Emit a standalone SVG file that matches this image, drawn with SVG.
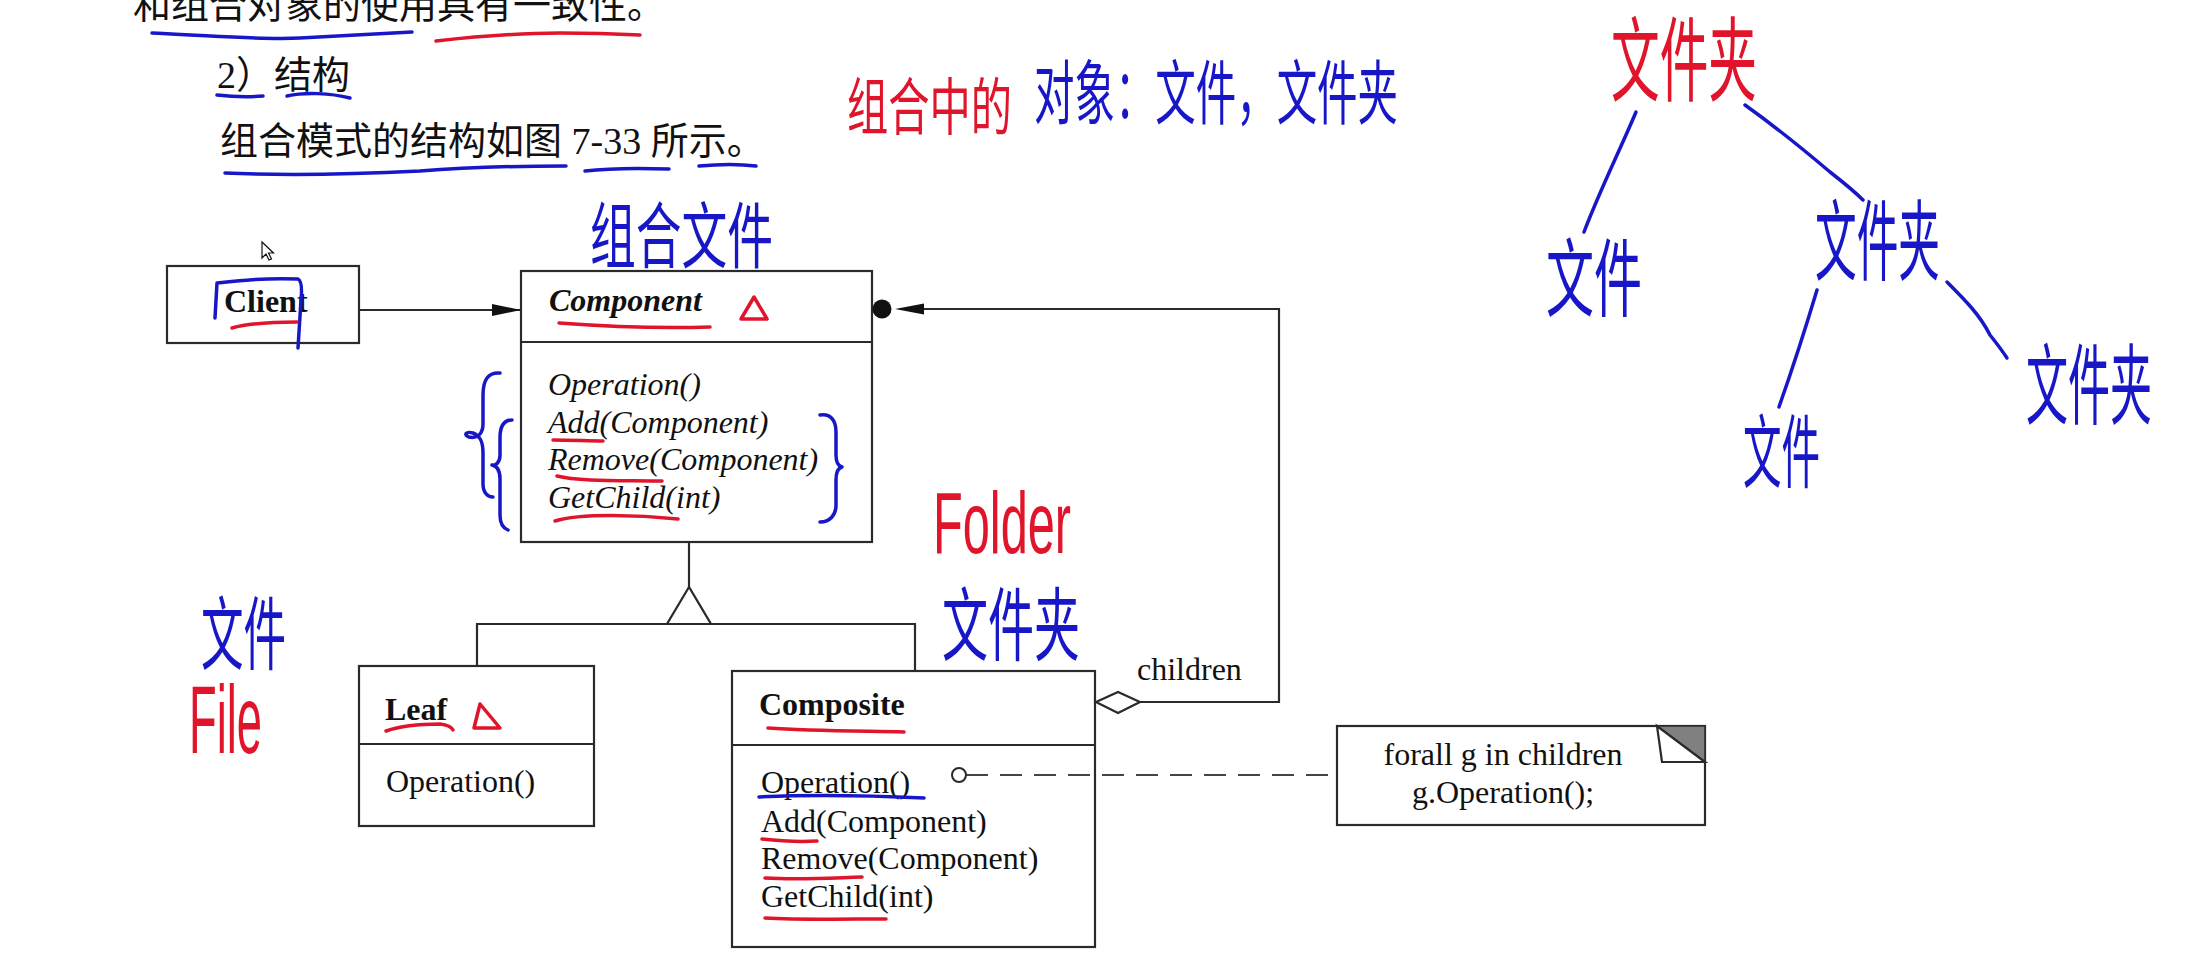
<svg xmlns="http://www.w3.org/2000/svg" width="2203" height="975" viewBox="0 0 2203 975">
<style>
.bg{fill:#ffffff}
.box{fill:#ffffff;stroke:#2a2a2a;stroke-width:2.2}
.ln{fill:none;stroke:#2a2a2a;stroke-width:2.2}
.dash{fill:none;stroke:#444;stroke-width:2.2;stroke-dasharray:22 12}
.t{font-family:"Liberation Serif","Times New Roman",serif;font-size:32px;fill:#111}
.tb{font-weight:bold}
.ti{font-style:italic}
.cn{font-family:"Liberation Serif","Noto Sans CJK SC",serif;font-size:38px;fill:#111}
.hb{font-family:"Noto Sans CJK SC","Noto Sans",sans-serif;fill:#1717c8}
.hr{font-family:"Noto Sans CJK SC","Noto Sans",sans-serif;fill:#e0142a}
.hlb{font-family:"Liberation Sans","Noto Sans",sans-serif;fill:#e0142a}
.pb{fill:none;stroke:#1717c8;stroke-width:3.5;stroke-linecap:round;stroke-linejoin:round}
.pr{fill:none;stroke:#e0142a;stroke-width:3.5;stroke-linecap:round;stroke-linejoin:round}
</style>
<defs>
<marker id="arrFill" markerWidth="30" markerHeight="12" refX="29" refY="6" orient="auto" markerUnits="userSpaceOnUse">
<path d="M0,0 L29,6 L0,12 Z" fill="#111"/>
</marker>
</defs>
<rect class="bg" x="0" y="0" width="2203" height="975"/>

<g id="page-text">
<text class="cn" x="133" y="18">和组合对象的使用具有一致性。</text>
<text class="cn" x="217" y="88">2）结构</text>
<text class="cn" x="220" y="154">组合模式的结构如图 7-33 所示。</text>
</g>

<g id="node-client">
<rect class="box" x="167" y="266" width="192" height="77"/>
<text class="t tb" x="224" y="312">Client</text>
</g>

<g id="node-component">
<rect class="box" x="521" y="271" width="351" height="271"/>
<line class="ln" x1="521" y1="342" x2="872" y2="342"/>
<text class="t tb ti" x="549" y="311">Component</text>
<text class="t ti" x="548" y="395">Operation()</text>
<text class="t ti" x="548" y="433">Add(Component)</text>
<text class="t ti" x="548" y="470">Remove(Component)</text>
<text class="t ti" x="548" y="508">GetChild(int)</text>
</g>

<g id="node-leaf">
<rect class="box" x="359" y="666" width="235" height="160"/>
<line class="ln" x1="359" y1="744" x2="594" y2="744"/>
<text class="t tb" x="385" y="720">Leaf</text>
<text class="t" x="386" y="792">Operation()</text>
</g>

<g id="node-composite">
<rect class="box" x="732" y="671" width="363" height="276"/>
<line class="ln" x1="732" y1="745" x2="1095" y2="745"/>
<text class="t tb" x="759" y="715">Composite</text>
<text class="t" x="761" y="793">Operation()</text>
<text class="t" x="761" y="832">Add(Component)</text>
<text class="t" x="761" y="869">Remove(Component)</text>
<text class="t" x="761" y="907">GetChild(int)</text>
</g>

<g id="node-note">
<rect class="box" x="1337" y="726" width="368" height="99"/>
<polygon points="1657,726 1705,726 1705,762" fill="#808080" stroke="#2a2a2a" stroke-width="1.5"/>
<path class="ln" d="M1657,726 L1662,762 H1705 Z" fill="#fff"/>
<text class="t" x="1503" y="765" text-anchor="middle">forall g in children</text>
<text class="t" x="1503" y="803" text-anchor="middle">g.Operation();</text>
</g>

<g id="connectors">
<line class="ln" x1="359" y1="310" x2="521" y2="310" marker-end="url(#arrFill)"/>
<path class="ln" d="M689,542 V587"/>
<path class="ln" d="M477,666 V624 H915 V671"/>
<polygon points="689,587 667,624 711,624" fill="#fff" stroke="#2a2a2a" stroke-width="2.2"/>
<path class="ln" d="M1140,702 H1279 V309 H921"/>
<polygon points="895,309 924,303.5 924,314.5" fill="#111"/>
<circle cx="882" cy="309" r="9.5" fill="#111"/>
<polygon points="1096,702 1118,692 1140,702 1118,713" fill="#fff" stroke="#2a2a2a" stroke-width="2.2"/>
<text class="t" x="1137" y="680">children</text>
<line class="dash" x1="966" y1="775" x2="1337" y2="775"/>
<circle cx="959" cy="775" r="7" fill="#fff" stroke="#2a2a2a" stroke-width="2"/>
</g>

<g id="cursor">
<polygon points="262,242 262,258 266,254 269,260 271.5,259 268.5,253 273.5,253" fill="#fff" stroke="#111" stroke-width="1.2"/>
</g>

<g id="annotations">
<path class="pb" d="M152,33 C220,36 260,40 300,38 C340,36 380,34 412,32"/>
<path class="pr" d="M436,41 C480,36 520,33 560,33 C600,33 620,34 640,35"/>
<path class="pb" d="M217,95 C235,97 250,97 263,96"/>
<path class="pb" d="M287,96 C305,92 330,93 350,98"/>
<path class="pb" d="M225,173 C290,176 360,174 420,171 C480,166 530,166 566,166"/>
<path class="pb" d="M585,171 C610,168 640,168 669,169"/>
<path class="pb" d="M699,166 C720,164 740,164 756,166"/>

<text class="hr" x="847" y="130" font-size="62" textLength="165" lengthAdjust="spacingAndGlyphs">组合中的</text>
<text class="hb" x="1034" y="119" font-size="70" textLength="364" lengthAdjust="spacingAndGlyphs">对象：文件，文件夹</text>
<text class="hb" x="590" y="262" font-size="72" textLength="183" lengthAdjust="spacingAndGlyphs">组合文件</text>
<text class="hb" x="201" y="663" font-size="80" textLength="85" lengthAdjust="spacingAndGlyphs">文件</text>
<text class="hlb" x="189" y="753" font-size="96" textLength="73" lengthAdjust="spacingAndGlyphs">File</text>
<text class="hlb" x="933" y="553" font-size="88" textLength="138" lengthAdjust="spacingAndGlyphs">Folder</text>
<text class="hb" x="942" y="654" font-size="80" textLength="138" lengthAdjust="spacingAndGlyphs">文件夹</text>

<path class="pb" d="M215,318 L217,283 C240,280 270,278 298,279 C302,281 302,290 301,300 L298,348"/>
<path class="pr" d="M232,328 C250,323 270,322 297,322"/>

<path class="pr" d="M559,323 C600,326 650,329 710,327"/>
<path class="pr" d="M741,319 L754,297 L767,319 Z"/>
<path class="pb" d="M500,373 C488,372 483,380 483,395 L483,424 C483,433 478,439 469,437 C463,435 466,431 473,433 C481,436 483,443 483,453 L483,484 C483,493 488,497 493,497"/>
<path class="pb" d="M512,420 C503,420 500,428 500,438 L500,455 C500,462 496,466 492,465 C497,466 500,471 500,479 L500,515 C500,523 503,528 508,530"/>
<path class="pb" d="M820,415 C830,413 836,420 836,432 L836,455 C836,462 838,466 842,467 C838,468 836,472 836,480 L836,505 C836,515 830,522 820,522"/>
<path class="pr" d="M553,440 C570,440 590,441 603,441"/>
<path class="pr" d="M557,476 C580,482 630,480 662,481"/>
<path class="pr" d="M555,521 C580,513 640,515 678,519"/>

<path class="pr" d="M386,731 C400,726 420,724 440,724 C448,725 452,728 453,730"/>
<path class="pr" d="M474,728 L480,704 L500,728 Z"/>
<path class="pr" d="M768,728 C810,731 860,731 904,732"/>
<path class="pb" d="M759,797 C800,795 860,795 924,798"/>
<path class="pr" d="M762,839 C780,841 800,842 817,841"/>
<path class="pr" d="M765,878 C800,880 830,878 862,877"/>
<path class="pr" d="M765,918 C800,920 850,919 886,919"/>

<text class="hr" x="1611" y="94" font-size="92" textLength="146" lengthAdjust="spacingAndGlyphs">文件夹</text>
<text class="hb" x="1546" y="310" font-size="85" textLength="96" lengthAdjust="spacingAndGlyphs">文件</text>
<text class="hb" x="1815" y="273" font-size="88" textLength="125" lengthAdjust="spacingAndGlyphs">文件夹</text>
<text class="hb" x="1743" y="481" font-size="80" textLength="77" lengthAdjust="spacingAndGlyphs">文件</text>
<text class="hb" x="2026" y="417" font-size="88" textLength="126" lengthAdjust="spacingAndGlyphs">文件夹</text>
<path class="pb" d="M1636,112 C1620,150 1600,190 1584,232"/>
<path class="pb" d="M1745,105 C1780,130 1810,155 1830,172 C1848,186 1858,195 1863,200"/>
<path class="pb" d="M1817,290 C1805,330 1792,370 1779,407"/>
<path class="pb" d="M1947,282 C1965,300 1980,315 1990,335 C1998,345 2003,352 2007,358"/>
</g>
</svg>
